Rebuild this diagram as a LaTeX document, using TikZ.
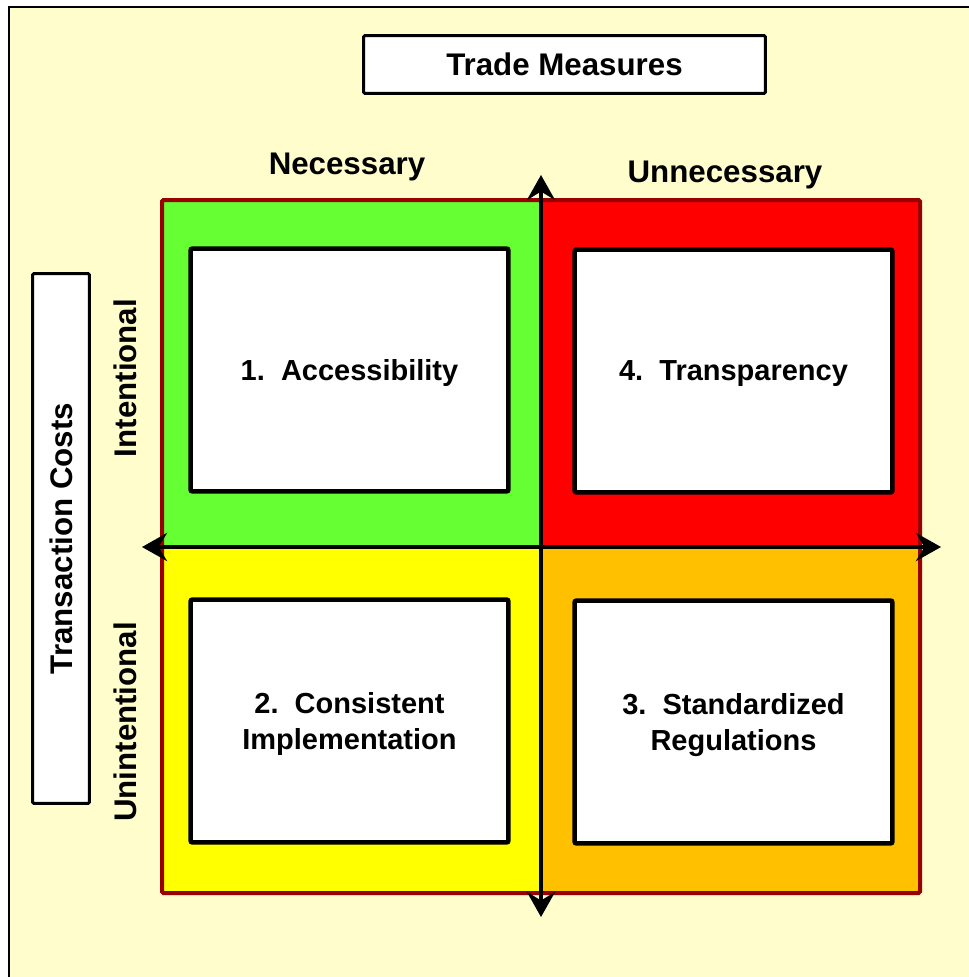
\documentclass[tikz,border=0pt]{standalone}
\usepackage{fontspec}
\setmainfont{Liberation Sans}
\usetikzlibrary{arrows.meta}

\definecolor{paper}{HTML}{FFFDCC}
\definecolor{rim}{HTML}{990000}
\definecolor{quadgreen}{HTML}{66FF33}
\definecolor{quadred}{HTML}{FF0000}
\definecolor{quadyellow}{HTML}{FFFF00}
\definecolor{quadorange}{HTML}{FFC000}

\begin{document}
\begin{tikzpicture}[x = 0.02cm, y = -0.02cm,
		quadbox/.style = {draw, fill = white, line width = 0.09cm, rounded corners = 0.04cm,
			minimum width = 6.36cm, minimum height = 4.86cm, align = center, text depth = 0pt,
			font = \bfseries\fontsize{16.5}{20.5}\selectfont},
		headtext/.style = {font = \bfseries\fontsize{17.8}{21}\selectfont},
		axis/.style = {line width = 0.09cm,
			{Stealth[length = 0.5cm, width = 0.56cm, inset = 0.17cm]}-{Stealth[length = 0.5cm, width = 0.56cm, inset = 0.17cm]}}]
	
		\useasboundingbox (0, 0) rectangle (969, 977);
		\clip (0, 0) rectangle (969, 977);
		\fill[white] (0, 0) rectangle (969, 977);
		\draw[line width = 0.05cm, fill = paper] (9, 7) rectangle (1000, 1010);
		
		% quadrants
		\fill[quadgreen] (162, 200) rectangle (541, 547);
		\fill[quadred] (541, 200) rectangle (920, 547);
		\fill[quadyellow] (162, 547) rectangle (541, 893);
		\fill[quadorange] (541, 547) rectangle (920, 893);
		\draw[rim, line width = 0.08cm, rounded corners = 0.03cm] (162, 200) rectangle (920, 893);
		
		\node[quadbox] (access) at (349.5, 370) {1.~~Accessibility};
		\node[quadbox] (transp) at (733.5, 371) {4.~~Transparency};
		\node[quadbox] (consist) at (349.5, 721) {2.~~Consistent\\Implementation};
		\node[quadbox] (standard) at (733.5, 722) {3.~~Standardized\\Regulations};
		
		% headings
		\node[headtext, draw, fill = white, line width = 0.06cm, rounded corners = 0.03cm,
			minimum width = 8.04cm, minimum height = 1.16cm] (trade) at (564.5, 64.5) {Trade Measures};
		\node[headtext, anchor = base] (necess) at (347, 174) {Necessary};
		\node[headtext, anchor = base] (unnecess) at (725, 182) {Unnecessary};
		\node[headtext, draw, fill = white, line width = 0.06cm, rounded corners = 0.03cm,
			minimum width = 10.6cm, minimum height = 1.14cm, rotate = 90] (costs) at (61, 538.5) {Transaction Costs};
		\node[headtext, rotate = 90] (intent) at (125, 378) {Intentional};
		\node[headtext, rotate = 90] (unintent) at (125, 722) {Unintentional};
		
		% axes
		\coordinate (north) at (541, 175);
		\coordinate (south) at (541, 917);
		\coordinate (west) at (142, 547);
		\coordinate (east) at (941, 547);
		\draw[axis] (south) -- (north);
		\draw[axis] (west) -- (east);
		
	\end{tikzpicture}
\end{document}
